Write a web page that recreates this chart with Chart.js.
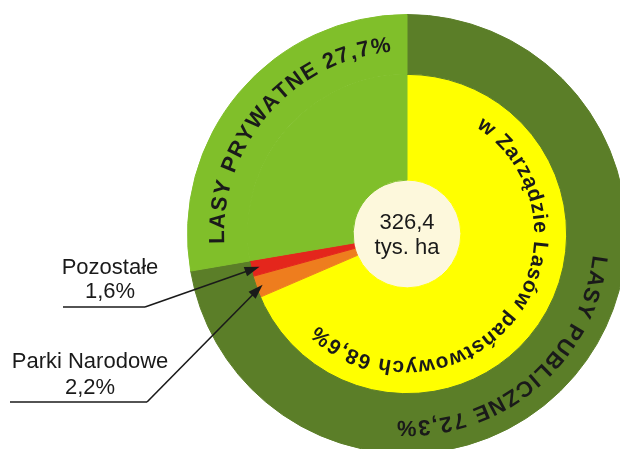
<!DOCTYPE html>
<html>
<head>
<meta charset="utf-8">
<script src="https://cdn.jsdelivr.net/npm/chart.js@4/dist/chart.umd.min.js"></script>
<style>
  html, body { margin: 0; padding: 0; background: #fff; overflow: hidden; }
  #c { position: absolute; left: 0; top: 0; }
</style>
</head>
<body>
<canvas id="c" width="640" height="470"></canvas>
<script>
// outer ring: ownership
const ownerLabels = ['LASY PUBLICZNE', 'LASY PRYWATNE'];
const ownerValues = [72.3, 27.7];
const ownerColors = ['#5b7e28', '#80bf2a'];

// inner ring: managers
const managerLabels = ['w Zarządzie Lasów państwowych', 'Parki Narodowe', 'Pozostałe', 'LASY PRYWATNE'];
const managerValues = [68.6, 2.2, 1.6, 27.7];
const managerColors = ['#ffff00', '#ee7d1e', '#e4261c', '#80bf2a'];

// total area in the middle
const totalValue = [326.4];
const totalText = ['326,4', 'tys. ha'];

function fmt(v) { return v.toFixed(1).replace('.', ',') + '%'; }

// text bent along a circle, clockwise, tops of letters outward
function arcText(ctx, text, cx, cy, r, a0, a1, font) {
    ctx.save();
    ctx.font = font;
    ctx.fillStyle = '#1a1a1a';
    ctx.textAlign = 'center';
    ctx.textBaseline = 'middle';
    const chars = Array.from(text);
    const widths = chars.map(ch => ctx.measureText(ch).width);
    const sum = widths.reduce((a, b) => a + b, 0);
    const arcLen = r * (a1 - a0) * Math.PI / 180;
    const gap = (arcLen - sum) / (chars.length - 1);
    let pos = 0;
    chars.forEach((ch, i) => {
        const ang = a0 * Math.PI / 180 + (pos + widths[i] / 2) / r;
        ctx.save();
        ctx.translate(cx, cy);
        ctx.rotate(ang);
        ctx.fillText(ch, 0, -r);
        ctx.restore();
        pos += widths[i] + gap;
    });
    ctx.restore();
}

function arrow(ctx, x0, y0, x1, y1) {
    const a = Math.atan2(y1 - y0, x1 - x0);
    const len = 15, half = 5;
    ctx.beginPath();
    ctx.moveTo(x0, y0);
    ctx.lineTo(x1 - Math.cos(a) * len * 0.8, y1 - Math.sin(a) * len * 0.8);
    ctx.stroke();
    ctx.beginPath();
    ctx.moveTo(x1, y1);
    ctx.lineTo(x1 - Math.cos(a) * len - Math.sin(a) * half, y1 - Math.sin(a) * len + Math.cos(a) * half);
    ctx.lineTo(x1 - Math.cos(a) * len + Math.sin(a) * half, y1 - Math.sin(a) * len - Math.cos(a) * half);
    ctx.closePath();
    ctx.fill();
}

const labelsPlugin = {
    id: 'labelsPlugin',
    afterDraw(chart) {
        const ctx = chart.ctx;
        const outer = chart.getDatasetMeta(0).data[0];
        const inner = chart.getDatasetMeta(1).data;
        const cx = outer.x, cy = outer.y;
        const bold = 'bold 22px "Liberation Sans", Arial, sans-serif';

        // curved ring labels
        arcText(ctx, ownerLabels[1] + ' ' + fmt(ownerValues[1]), cx, cy, 189, 267, 355, bold);
        arcText(ctx, ownerLabels[0] + ' ' + fmt(ownerValues[0]), cx, cy, 193, 96.5, 183, bold);
        arcText(ctx, managerLabels[0] + ' ' + fmt(managerValues[0]), cx, cy, 133, 33, 224, 'bold 21px "Liberation Sans", Arial, sans-serif');

        // centre text
        ctx.save();
        ctx.fillStyle = '#1a1a1a';
        ctx.textAlign = 'center';
        ctx.textBaseline = 'middle';
        ctx.font = '22px "Liberation Sans", Arial, sans-serif';
        ctx.fillText(totalText[0], cx, cy - 11);
        ctx.fillText(totalText[1], cx, cy + 14);
        ctx.restore();

        // callouts for the two small slices
        ctx.save();
        ctx.strokeStyle = '#1a1a1a';
        ctx.fillStyle = '#1a1a1a';
        ctx.lineWidth = 1.6;
        ctx.font = '22px "Liberation Sans", Arial, sans-serif';
        ctx.textAlign = 'center';
        ctx.textBaseline = 'middle';
        const tip = (el, rr) => {
            const mid = (el.startAngle + el.endAngle) / 2;
            return [cx + rr * Math.cos(mid), cy + rr * Math.sin(mid)];
        };
        // Pozostałe
        ctx.fillText(managerLabels[2], 110, 268);
        ctx.fillText(fmt(managerValues[2]), 110, 292);
        ctx.beginPath(); ctx.moveTo(63, 307); ctx.lineTo(145, 307); ctx.stroke();
        let t = tip(inner[2], 151);
        arrow(ctx, 145, 307, t[0], t[1]);
        // Parki Narodowe
        ctx.fillText(managerLabels[1], 90, 362);
        ctx.fillText(fmt(managerValues[1]), 90, 388);
        ctx.beginPath(); ctx.moveTo(10, 402); ctx.lineTo(147, 402); ctx.stroke();
        t = tip(inner[1], 153);
        arrow(ctx, 147, 402, t[0], t[1]);
        ctx.restore();
    }
};

new Chart(document.getElementById('c').getContext('2d'), {
    type: 'pie',
    data: {
        labels: managerLabels,
        datasets: [
            { data: ownerValues, backgroundColor: ownerColors, borderColor: ownerColors, borderWidth: 1, weight: 60 },
            { data: managerValues, backgroundColor: managerColors, borderColor: managerColors, borderWidth: 1, weight: 106 },
            { data: totalValue, backgroundColor: ['#fdf8dc'], borderColor: ['#fdf8dc'], borderWidth: 1, weight: 54 }
        ]
    },
    options: {
        responsive: false,
        animation: false,
        layout: { padding: { left: 187, right: 13, top: 14, bottom: 16 } },
        plugins: { legend: { display: false }, tooltip: { enabled: false } },
        hoverOffset: 0
    },
    plugins: [labelsPlugin]
});
</script>
</body>
</html>
